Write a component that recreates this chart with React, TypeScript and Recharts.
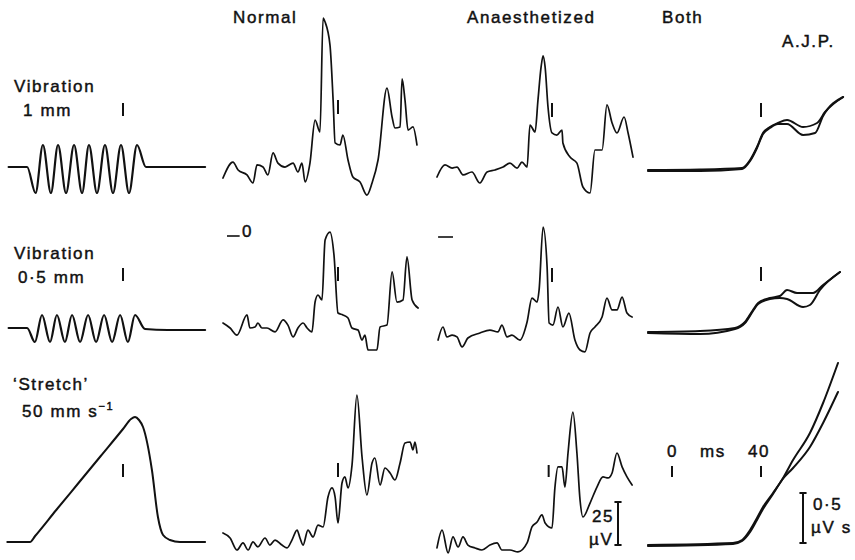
import React from 'react';
import { LineChart, Line, XAxis, YAxis, ReferenceLine } from 'recharts';

// ---- data: time in ms (0 = stimulus onset marker), amplitude in panel units ----
// Column 1: stimulus displacement (mm)
const vib1mm = [[-11.4,0],[-3.1,0],[0.7,-0.52],[4.0,0.44],[7.6,-0.52],[10.8,0.44],[14.4,-0.52],[18.0,0.44],[21.6,-0.52],[24.7,0.44],[28.3,-0.52],[31.9,0.44],[35.5,-0.52],[39.1,0.44],[42.7,-0.52],[46.3,0.44],[50.3,0],[76.9,0]];
const vib05mm = [[-11.4,0],[-3.1,0],[0.4,-0.28],[3.6,0.26],[7.2,-0.28],[10.3,0.26],[13.9,-0.28],[17.1,0.26],[20.7,-0.28],[24.3,0.26],[27.9,-0.28],[31.5,0.26],[35.1,-0.28],[38.7,0.26],[42.2,-0.28],[45.4,0.26],[49.9,-0.02],[60,-0.04],[76.9,-0.04]];
const stretch = [[-12.0,0],[-1.8,0],[0.5,0.12],[10,0.64],[20,1.18],[30,1.72],[40,2.26],[43.6,2.46],[45.4,2.5],[47.2,2.44],[49.0,2.3],[53.0,1.44],[55.7,0.5],[58.0,0.14],[61.1,0.04],[65.6,0],[76.9,0]];

// Columns 2-3: averaged rectified EMG (µV)
const normal1 = [[-11.7,33.7],[-7.2,43.0],[-4.9,38.4],[-0.9,35.5],[1.8,30.8],[3.6,41.3],[6.3,40.1],[8.5,35.5],[10.8,48.3],[13.0,42.4],[16.2,40.1],[19.8,42.4],[22.0,37.2],[23.8,42.4],[25.2,31.4],[27.4,42.4],[29.7,67.4],[31.9,60.5],[33.3,126.7],[34.2,124.4],[36.4,111.0],[37.8,79.1],[38.7,54.1],[40.9,52.9],[42.2,58.7],[44.5,44.2],[46.7,34.3],[49.9,31.4],[53.0,23.8],[55.3,30.8],[58.0,44.2],[62.0,86.0],[64.3,69.2],[65.6,62.8],[67.9,63.4],[68.8,91.3],[70.1,79.1],[71.5,61.6],[73.7,63.4],[75.5,52.9]];
const anaes1 = [[-11.7,34.3],[-8.1,41.3],[-4.9,39.5],[-2.7,40.1],[0,35.5],[4.0,37.2],[7.6,30.8],[10.8,37.2],[14.4,38.4],[18.0,40.1],[21.1,42.4],[24.3,39.5],[26.5,43.0],[28.8,40.1],[30.1,64.5],[32.4,60.5],[33.7,79.1],[35.1,98.3],[36.0,104.7],[36.9,98.3],[38.2,75.0],[40.0,59.9],[42.2,58.7],[44.5,61.6],[44.9,54.1],[48.1,45.9],[51.2,42.4],[53.9,28.5],[57.1,25.0],[59.3,50.0],[62.5,50.0],[64.7,76.2],[67.0,65.7],[69.2,59.9],[72.4,69.2],[74.2,59.9],[76.4,45.9]];
const normal2 = [[-11.7,21.5],[-8.5,18.6],[-5.4,14.5],[-0.9,26.2],[0.4,18.6],[2.7,19.2],[4.0,21.5],[5.8,18.6],[8.1,18.6],[11.7,16.3],[15.3,23.3],[17.5,20.3],[19.8,13.4],[22.0,18.6],[24.3,21.5],[26.1,18.6],[28.3,16.3],[29.7,33.7],[31.0,37.8],[32.8,34.9],[34.2,69.8],[36.4,74.4],[38.2,61.0],[40.0,27.3],[42.2,26.2],[44.5,24.4],[46.3,18.6],[49.0,17.4],[50.8,11.6],[52.1,14.5],[53.5,5.8],[57.5,5.8],[58.9,19.2],[62.0,20.3],[64.3,51.2],[66.5,33.7],[69.2,34.9],[71.0,59.9],[73.3,34.9],[76.0,30.2]];
const anaes2 = [[-11.2,11.6],[-9.0,19.2],[-7.2,13.4],[-4.9,14.5],[-2.7,13.4],[-0.4,7.6],[2.2,12.8],[7.6,15.7],[12.1,17.4],[15.7,16.3],[17.5,20.3],[19.8,13.4],[22.0,14.5],[25.6,11.6],[28.8,22.1],[31.0,36.0],[33.3,33.7],[34.2,40.7],[36.0,77.3],[37.8,54.1],[38.7,21.5],[40.4,20.3],[42.7,30.8],[44.9,19.2],[47.6,27.3],[50.3,11.6],[52.6,5.8],[54.8,4.7],[57.1,15.7],[59.3,19.2],[62.5,25.0],[64.7,36.0],[67.0,29.1],[69.2,29.1],[71.5,36.6],[73.7,27.3],[76.0,25.0]];
const normal3 = [[-11.7,15.7],[-8.5,12.8],[-5.4,5.8],[-2.7,9.9],[-0.4,5.8],[1.8,10.5],[4.0,7.6],[7.2,12.8],[9.4,8.7],[11.7,11.6],[14.8,8.7],[17.1,7.0],[19.3,11.6],[21.6,17.4],[22.9,12.8],[24.3,8.7],[26.5,17.4],[28.8,13.4],[31.0,20.3],[33.3,19.2],[35.5,36.6],[37.3,41.9],[38.7,36.6],[40.0,21.5],[41.8,44.8],[43.1,48.3],[44.5,41.9],[46.3,55.2],[48.5,95.9],[50.8,59.9],[53.0,37.8],[55.3,56.4],[56.6,59.3],[58.9,43.6],[61.1,53.5],[63.4,50.6],[65.6,46.5],[67.9,56.4],[70.1,68.0],[72.4,68.6],[73.7,64.0],[74.6,68.6],[75.5,62.2]];
const anaes3 = [[-11.7,7.0],[-9.4,17.4],[-6.7,4.1],[-4.5,13.4],[-2.2,7.6],[0,13.4],[2.2,8.7],[5.4,7.0],[8.5,5.8],[12.1,8.7],[15.3,9.9],[17.5,5.8],[21.1,5.8],[24.7,4.7],[28.8,9.9],[31.0,19.2],[33.3,22.1],[35.5,26.2],[36.9,21.5],[40.0,18.6],[41.3,41.9],[42.7,54.1],[44.5,54.1],[45.8,42.4],[47.2,62.2],[49.4,86.0],[51.2,62.2],[52.6,34.9],[53.9,25.0],[57.1,33.1],[60.2,42.4],[62.9,48.3],[65.2,47.7],[67.0,50.6],[69.2,62.2],[71.5,54.1],[73.7,48.3],[76.0,43.6]];

// Column 4: integrated EMG (µV s), normal (A) and anaesthetized (B) superimposed
const both1A = [[-10.8,0],[12.6,0.005],[31.5,0.02],[35.1,0.10],[38.2,0.23],[40.9,0.37],[44.0,0.43],[47.6,0.47],[51.7,0.50],[58.9,0.43],[65.2,0.47],[68.8,0.58],[76.9,0.73]];
const both1B = [[-10.8,-0.01],[12.6,-0.01],[31.5,0.01],[35.1,0.09],[38.2,0.22],[40.9,0.36],[44.0,0.42],[47.6,0.46],[51.7,0.46],[58.9,0.35],[64.3,0.37],[67.9,0.54],[76.9,0.73]];
const both2A = [[-10.8,0],[12.6,0.01],[28.3,0.04],[32.8,0.10],[36.4,0.22],[38.7,0.29],[44.0,0.34],[48.5,0.36],[51.7,0.42],[56.2,0.39],[63.4,0.39],[67.9,0.47],[75.5,0.60]];
const both2B = [[-10.8,-0.01],[12.6,-0.02],[28.3,0.03],[32.8,0.09],[36.4,0.21],[38.7,0.28],[44.0,0.33],[48.5,0.34],[51.7,0.33],[58.9,0.25],[62.0,0.27],[66.5,0.42],[75.5,0.60]];
const both3A = [[-10.8,0],[27.4,0.02],[31.5,0.05],[35.1,0.15],[38.2,0.27],[40.9,0.38],[45.4,0.52],[49.4,0.65],[54.4,0.85],[62.0,1.12],[67.9,1.42],[74.6,1.82]];
const both3B = [[-10.8,-0.01],[27.4,0.01],[31.5,0.04],[35.1,0.13],[38.2,0.25],[40.9,0.36],[45.4,0.51],[49.4,0.65],[54.4,0.77],[62.0,0.98],[67.9,1.22],[74.6,1.53]];

const columnTitles = ['Normal', 'Anaesthetized', 'Both'];
const timeMarks = [0, 40];
const scaleEMG = 25;   // µV
const scaleInt = 0.5;  // µV s

// ---- layout ----
const SX = 2.225; // px per ms
const INK = '#111';
const FONT = '"Liberation Sans", Arial, Helvetica, sans-serif';

const toPts = (a: number[][]) => a.map(([t, v]) => ({ t, v }));

type Seg = { t1: number; t2: number; y1: number; y2: number; w?: number };

function Panel(props: {
  left: number; top: number; width: number; height: number;
  x0: number; base: number; sy: number;
  series: number[][][]; sw: number; segs?: Seg[];
}) {
  const { left, top, width, height, x0, base, sy, series, sw, segs = [] } = props;
  const xd = [(left - x0) / SX, (left + width - x0) / SX];
  const yd = [(base - (top + height)) / sy, (base - top) / sy];
  const vy = (py: number) => (base - py) / sy;
  return (
    <div style={{ position: 'absolute', left, top }}>
      <LineChart width={width} height={height} margin={{ top: 0, right: 0, bottom: 0, left: 0 }}>
        <XAxis type="number" dataKey="t" domain={xd} hide allowDataOverflow />
        <YAxis type="number" domain={yd} hide allowDataOverflow />
        {series.map((s, i) => (
          <Line key={i} data={toPts(s)} dataKey="v" type="monotone" dot={false} activeDot={false} stroke={INK}
            strokeWidth={sw} strokeLinejoin="round" strokeLinecap="round" isAnimationActive={false} />
        ))}
        {segs.map((g, i) => (
          <ReferenceLine key={'s' + i} segment={[{ x: g.t1, y: vy(g.y1) }, { x: g.t2, y: vy(g.y2) }]}
            stroke={INK} strokeWidth={g.w ?? 2} ifOverflow="visible" />
        ))}
      </LineChart>
    </div>
  );
}

const tick = (t: number, y1: number, y2: number): Seg => ({ t1: t, t2: t, y1, y2 });

export default function App() {
  const T = timeMarks[1];
  const cols = [
    { left: 0, width: 215, x0: 34 },
    { left: 215, width: 215, x0: 249 },
    { left: 430, width: 210, x0: 463 },
    { left: 640, width: 215, x0: 672 },
  ];
  const rows = [
    { top: 0, height: 245 },
    { top: 205, height: 160 },
    { top: 355, height: 205 },
  ];
  const barX = (618 - 463) / SX;
  const barX4 = (803 - 672) / SX;
  const cap = 1.6;
  const textStyle: React.CSSProperties = {
    fontFamily: FONT, fontSize: 17, letterSpacing: 1.6, fill: INK, stroke: INK, strokeWidth: 0.45,
  };
  return (
    <div style={{ position: 'absolute', left: 0, top: 0, width: 855, height: 560, background: '#fff', overflow: 'hidden' }}>
      {/* Column 1: stimuli */}
      <Panel {...cols[0]} {...rows[0]} base={167} sy={50} series={[vib1mm]} sw={2.2} segs={[tick(T, 103, 116)]} />
      <Panel {...cols[0]} {...rows[1]} base={328} sy={50} series={[vib05mm]} sw={2.2} segs={[tick(T, 268, 281)]} />
      <Panel {...cols[0]} {...rows[2]} base={542} sy={50} series={[stretch]} sw={2} segs={[tick(T, 464, 477)]} />
      {/* Column 2: normal */}
      <Panel {...cols[1]} {...rows[0]} base={236} sy={1.72} series={[normal1]} sw={1.7}
        segs={[tick(T, 100, 114), { t1: -9.9, t2: -4.2, y1: 236, y2: 236, w: 1.6 }]} />
      <Panel {...cols[1]} {...rows[1]} base={360} sy={1.72} series={[normal2]} sw={1.7} segs={[tick(T, 267, 281)]} />
      <Panel {...cols[1]} {...rows[2]} base={560} sy={1.72} series={[normal3]} sw={1.7} segs={[tick(T, 463, 477)]} />
      {/* Column 3: anaesthetized */}
      <Panel {...cols[2]} {...rows[0]} base={236} sy={1.72} series={[anaes1]} sw={1.7}
        segs={[tick(T, 103, 117), { t1: -11.2, t2: -4.5, y1: 237, y2: 237, w: 1.6 }]} />
      <Panel {...cols[2]} {...rows[1]} base={360} sy={1.72} series={[anaes2]} sw={1.7} segs={[tick(T, 268, 282)]} />
      <Panel {...cols[2]} {...rows[2]} base={560} sy={1.72} series={[anaes3]} sw={1.7}
        segs={[
          tick(38.5, 465, 477),
          { t1: barX, t2: barX, y1: 545, y2: 545 - scaleEMG * 1.72 },
          { t1: barX - cap, t2: barX + cap, y1: 545, y2: 545 },
          { t1: barX - cap, t2: barX + cap, y1: 545 - scaleEMG * 1.72, y2: 545 - scaleEMG * 1.72 },
        ]} />
      {/* Column 4: both, integrated */}
      <Panel {...cols[3]} {...rows[0]} base={170} sy={100} series={[both1A, both1B]} sw={2} segs={[tick(T, 103, 117)]} />
      <Panel {...cols[3]} {...rows[1]} base={332} sy={100} series={[both2A, both2B]} sw={2} segs={[tick(T, 267, 281)]} />
      <Panel {...cols[3]} {...rows[2]} base={545} sy={100} series={[both3A, both3B]} sw={2}
        segs={[
          tick(timeMarks[0], 466, 477), tick(T, 466, 477),
          { t1: barX4, t2: barX4, y1: 543, y2: 543 - scaleInt * 100 },
          { t1: barX4 - cap, t2: barX4 + cap, y1: 543, y2: 543 },
          { t1: barX4 - cap, t2: barX4 + cap, y1: 543 - scaleInt * 100, y2: 543 - scaleInt * 100 },
        ]} />
      {/* Text */}
      <svg width={855} height={560} style={{ position: 'absolute', left: 0, top: 0, pointerEvents: 'none' }}>
        <text x={233} y={23} style={textStyle}>{columnTitles[0]}</text>
        <text x={467} y={23} style={textStyle}>{columnTitles[1]}</text>
        <text x={662} y={23} style={textStyle}>{columnTitles[2]}</text>
        <text x={782} y={47} style={textStyle}>A.J.P.</text>
        <text x={14} y={92} style={textStyle}>Vibration</text>
        <text x={23} y={116} style={textStyle}>1 mm</text>
        <text x={14} y={259} style={textStyle}>Vibration</text>
        <text x={18} y={283} style={textStyle}>0·5 mm</text>
        <text x={13} y={390} style={textStyle}>‘Stretch’</text>
        <text x={22} y={417} style={textStyle}>50 mm s<tspan dy={-7} fontSize={11}>−1</tspan></text>
        <text x={242} y={237} style={textStyle}>0</text>
        <text x={592} y={522} style={textStyle}>25</text>
        <text x={589} y={545} style={textStyle}>µV</text>
        <text x={667} y={457} style={textStyle}>{String(timeMarks[0])}</text>
        <text x={700} y={457} style={textStyle}>ms</text>
        <text x={748} y={457} style={textStyle}>{String(timeMarks[1])}</text>
        <text x={813} y={510} style={textStyle}>0·5</text>
        <text x={811} y={533} style={textStyle}>µV s</text>
      </svg>
    </div>
  );
}
